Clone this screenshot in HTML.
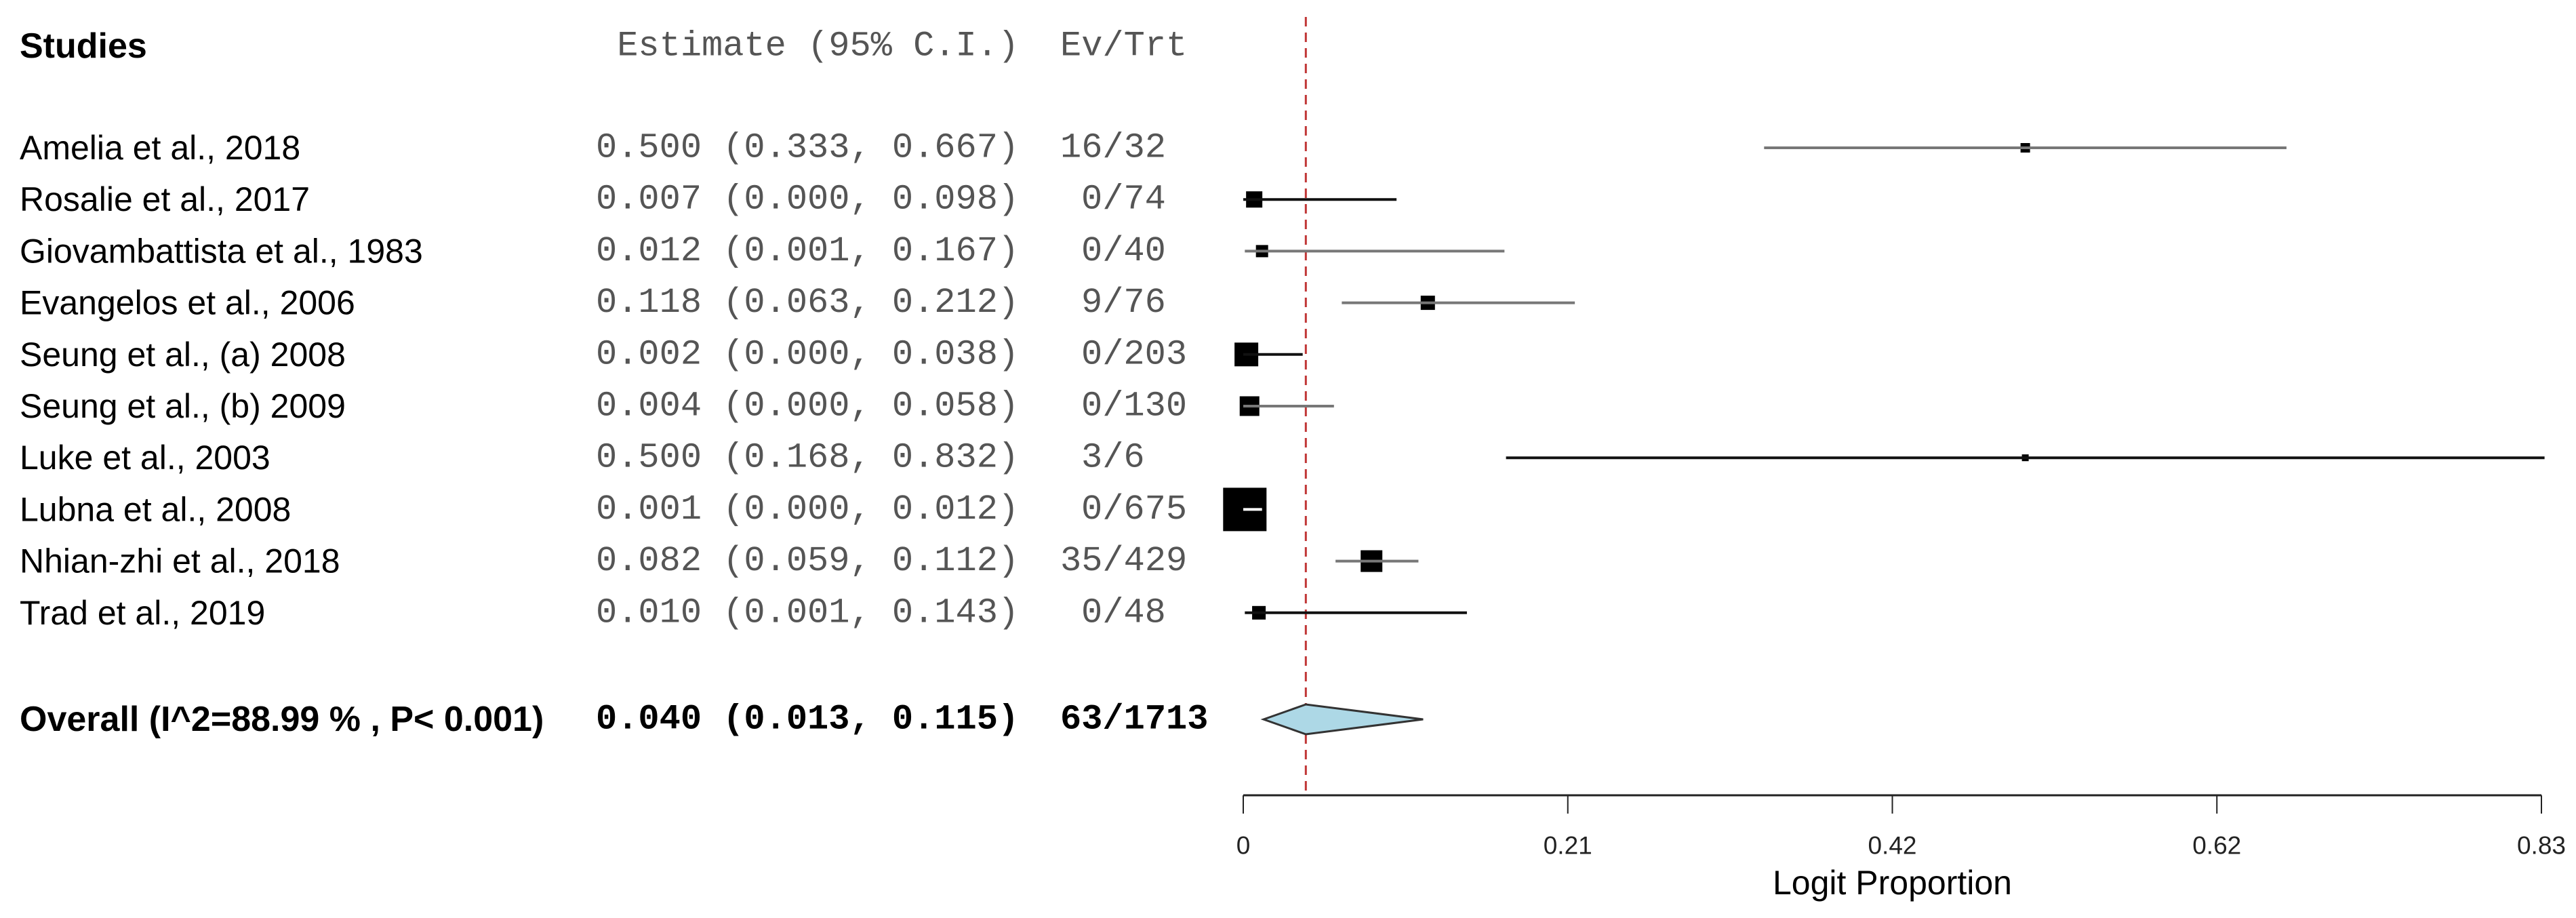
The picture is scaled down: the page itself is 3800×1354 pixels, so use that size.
<!DOCTYPE html>
<html><head><meta charset="utf-8"><style>
html,body{margin:0;padding:0;background:#fff;}
svg{display:block;}
.sans{font-family:"Liberation Sans",Arial,sans-serif;}
.mono{font-family:"Liberation Mono",monospace;}
</style></head><body>
<svg id="chart" width="3800" height="1354" viewBox="0 0 3800 1354" xmlns="http://www.w3.org/2000/svg">
<rect width="3800" height="1354" fill="#fff"/>
<g id="hdr">
<text class="sans" x="29" y="68" font-size="52" font-weight="bold" dominant-baseline="central">Studies</text>
<text class="mono" x="879" y="68" font-size="52" fill="#555" dominant-baseline="central" xml:space="preserve"> Estimate (95% C.I.)</text>
<text class="mono" x="1564" y="68" font-size="52" fill="#555" dominant-baseline="central">Ev/Trt</text>
</g>
<g id="rows"></g>
<g id="marks"></g>
<g id="axis"></g>
</svg>
<script>
const studies = ["Amelia et al., 2018","Rosalie et al., 2017","Giovambattista et al., 1983","Evangelos et al., 2006","Seung et al., (a) 2008","Seung et al., (b) 2009","Luke et al., 2003","Lubna et al., 2008","Nhian-zhi et al., 2018","Trad et al., 2019"];
const estimates = [0.500,0.007,0.012,0.118,0.002,0.004,0.500,0.001,0.082,0.010];
const lower = [0.333,0.000,0.001,0.063,0.000,0.000,0.168,0.000,0.059,0.001];
const upper = [0.667,0.098,0.167,0.212,0.038,0.058,0.832,0.012,0.112,0.143];
const events = ["16/32","0/74","0/40","9/76","0/203","0/130","3/6","0/675","35/429","0/48"];
const weights = [14,24,18,21,35,29,10,64,32,20];
const overall = {label:"Overall (I^2=88.99 % , P< 0.001)", est:0.040, lo:0.013, hi:0.115, ev:"63/1713"};
const tickValues = [0,0.2075,0.415,0.6225,0.83];
const tickLabels = ["0","0.21","0.42","0.62","0.83"];
const lineColors = ["#777","#111","#777","#777","#111","#777","#111","#fff","#777","#111"];

const NS="http://www.w3.org/2000/svg";
const X0=1834,X1=3749,XMAX=0.83;
function xs(v){return X0+(v/XMAX)*(X1-X0);}
function ys(i){return 218+i*76.2;}
function mk(tag,attrs,parent){const e=document.createElementNS(NS,tag);for(const k in attrs)e.setAttribute(k,attrs[k]);parent.appendChild(e);return e;}
const rows=document.getElementById('rows'),marks=document.getElementById('marks'),axis=document.getElementById('axis');
function f3(v){return v.toFixed(3);}

const ref=mk('line',{x1:xs(overall.est),x2:xs(overall.est),y1:25,y2:1175,stroke:'#c03535','stroke-width':3,'stroke-dasharray':'14 9'},marks);



studies.forEach((s,i)=>{
  const y=ys(i);
  const t=mk('text',{class:'sans',x:29,y:y,'font-size':50,'dominant-baseline':'central'},rows);
  t.textContent=s;
  
  
  const e=mk('text',{class:'mono',x:879,y:y,'font-size':52,fill:'#555','dominant-baseline':'central'},rows);
  e.textContent=f3(estimates[i])+" ("+f3(lower[i])+", "+f3(upper[i])+")";
  
  
  const ev=events[i];
  const pad=(ev.indexOf('/')===1)?31:0;
  const v=mk('text',{class:'mono',x:1564+pad,y:y,'font-size':52,fill:'#555','dominant-baseline':'central'},rows);
  v.textContent=ev;
  
  
  const w=weights[i];
  const sq=mk('rect',{x:xs(estimates[i])-w/2,y:y-w/2,width:w,height:w,fill:'#000'},marks);
  
  
  const ln=mk('line',{x1:xs(lower[i]),x2:xs(upper[i]),y1:y,y2:y,stroke:lineColors[i],'stroke-width':4},marks);
  
  
});

const oy=1061;
const ol=mk('text',{class:'sans',x:29,y:oy,'font-size':52,'font-weight':'bold','dominant-baseline':'central'},rows);
ol.textContent=overall.label;


const oe=mk('text',{class:'mono',x:879,y:oy,'font-size':52,'font-weight':'bold','dominant-baseline':'central'},rows);
oe.textContent=f3(overall.est)+" ("+f3(overall.lo)+", "+f3(overall.hi)+")";


const ov=mk('text',{class:'mono',x:1564,y:oy,'font-size':52,'font-weight':'bold','dominant-baseline':'central'},rows);
ov.textContent=overall.ev;


const dm=mk('polygon',{points:`${xs(overall.lo)},${oy} ${xs(overall.est)},${oy-22} ${xs(overall.hi)},${oy} ${xs(overall.est)},${oy+22}`,fill:'#add8e6',stroke:'#333','stroke-width':3},marks);



const al=mk('line',{x1:X0,x2:X1,y1:1173,y2:1173,stroke:'#222','stroke-width':3},axis);


tickValues.forEach((v,i)=>{
  const tk=mk('line',{x1:xs(v),x2:xs(v),y1:1173,y2:1200,stroke:'#222','stroke-width':2},axis);
  
  
  const tl=mk('text',{class:'sans',x:xs(v),y:1247,'font-size':37,'text-anchor':'middle','dominant-baseline':'central',fill:'#222'},axis);
  tl.textContent=tickLabels[i];
  
  
});
const at=mk('text',{class:'sans',x:(X0+X1)/2,y:1302,'font-size':50,'text-anchor':'middle','dominant-baseline':'central'},axis);
at.textContent="Logit Proportion";


</script>
</body></html>
